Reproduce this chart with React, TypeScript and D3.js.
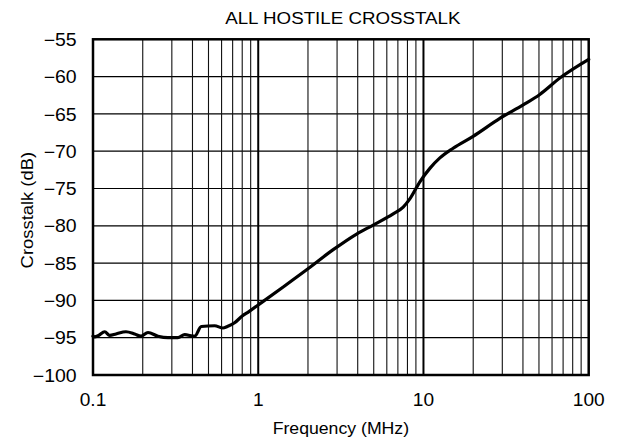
import React from "react";
import * as d3 from "d3";

const freqMHz = [
  0.1, 0.1024, 0.108, 0.1177, 0.1262, 0.1378, 0.1583, 0.1787, 0.1951, 0.2152,
  0.2474, 0.2842, 0.3265, 0.3587, 0.4124, 0.4522, 0.5445, 0.6114, 0.65, 0.7194,
  0.8, 0.8659, 1.046, 1.416, 1.963, 2.842, 3.939, 4.962, 6.556, 7.54, 8.27,
  9.51, 10.93, 12.57, 15.12, 19.98, 28.99, 40.1, 50.6, 66.9, 100,
];
const crosstalkDb = [
  -94.8, -94.9, -94.7, -94.2, -94.7, -94.5, -94.2, -94.5, -94.8, -94.3,
  -94.8, -95.0, -95.0, -94.6, -94.8, -93.5, -93.4, -93.7, -93.5, -93.0,
  -92.1, -91.6, -90.3, -88.2, -85.9, -83.2, -81.1, -79.9, -78.4, -77.5, -76.4,
  -74.1, -72.3, -70.9, -69.6, -68.0, -65.6, -63.8, -62.4, -60.2, -57.7,
];
const yTicks = [-100, -95, -90, -85, -80, -75, -70, -65, -60, -55];
const xDecades = [0.1, 1, 10, 100];
const xDecadeLabels = ["0.1", "1", "10", "100"];
const title = "ALL HOSTILE CROSSTALK";
const xTitle = "Frequency (MHz)";
const yTitle = "Crosstalk (dB)";

const W = 618;
const H = 440;
const L = 93;
const R = 588.7;
const T = 39.3;
const B = 375;
const FONT = "Arial, 'Liberation Sans', Helvetica, sans-serif";

export default function App() {
  const x = d3.scaleLog().domain([0.1, 100]).range([L, R]);
  const y = d3.scaleLinear().domain([-100, -55]).range([B, T]);

  const minor: number[] = [];
  for (let d = 0; d < 3; d++) {
    const base = xDecades[d];
    for (let k = 2; k <= 9; k++) minor.push(base * k);
  }

  const pts: [number, number][] = freqMHz.map((f, i) => [f, crosstalkDb[i]]);
  const line = d3
    .line<[number, number]>()
    .x((d) => x(d[0]))
    .y((d) => y(d[1]))
    .curve(d3.curveMonotoneX);

  const minus = (v: number) => (v < 0 ? "\u2212" + Math.abs(v) : String(v));

  return (
    <svg
      width={W}
      height={H}
      style={{ position: "absolute", left: 0, top: 0, background: "#fff" }}
      fontFamily={FONT}
    >
      <rect x={0} y={0} width={W} height={H} fill="#fff" />
      {yTicks.map((t) => (
        <line key={"h" + t} x1={L} x2={R} y1={y(t)} y2={y(t)} stroke="#000" strokeWidth={1.2} />
      ))}
      {minor.map((f) => (
        <line key={"m" + f} x1={x(f)} x2={x(f)} y1={T} y2={B} stroke="#111" strokeWidth={1.1} />
      ))}
      {xDecades.slice(1, 3).map((f) => (
        <line key={"d" + f} x1={x(f)} x2={x(f)} y1={T} y2={B} stroke="#000" strokeWidth={2} />
      ))}
      <rect x={L} y={T} width={R - L} height={B - T} fill="none" stroke="#000" strokeWidth={2.5} />
      <path d={line(pts) || ""} fill="none" stroke="#000" strokeWidth={3.2} strokeLinejoin="round" strokeLinecap="round" />
      {yTicks.map((t) => (
        <text
          key={"yl" + t}
          transform={`translate(76.7, ${y(t) + 6.6}) scale(1.1, 1)`}
          fontSize={17.7}
          textAnchor="end"
          fill="#000"
        >
          {minus(t)}
        </text>
      ))}
      {xDecades.map((f, i) => (
        <text
          key={"xl" + f}
          transform={`translate(${x(f)}, 405.5) scale(1.08, 1)`}
          fontSize={17.7}
          textAnchor="middle"
          fill="#000"
        >
          {xDecadeLabels[i]}
        </text>
      ))}
      <text
        transform={`translate(${(L + R) / 2 + 2}, 24) scale(1.09, 1)`}
        fontSize={17.2}
        textAnchor="middle"
        fill="#000"
      >
        {title}
      </text>
      <text
        transform={`translate(${(L + R) / 2}, 434) scale(1.04, 1)`}
        fontSize={17}
        textAnchor="middle"
        fill="#000"
      >
        {xTitle}
      </text>
      <text
        transform={`translate(33.3, ${(T + B) / 2 + 3}) rotate(-90) scale(1.07, 1)`}
        fontSize={17.2}
        textAnchor="middle"
        fill="#000"
      >
        {yTitle}
      </text>
    </svg>
  );
}
